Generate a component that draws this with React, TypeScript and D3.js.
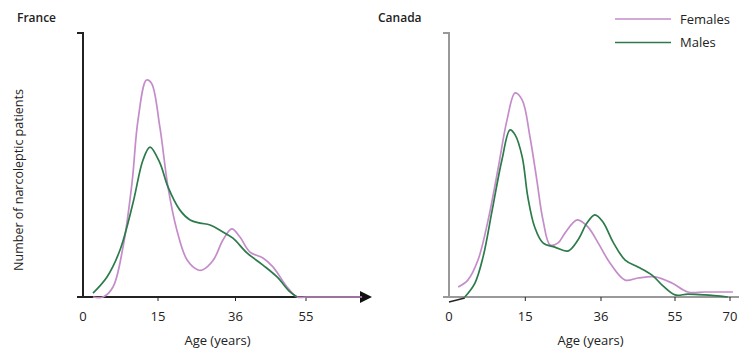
import React, { useEffect, useRef } from "react";
import * as d3 from "d3";

// Age-at-onset curves for narcoleptic patients, France vs Canada
// values are relative (0 = x-axis, 100 = top of y-axis)

const franceTicks = [0, 15, 36, 55];
const canadaTicks = [0, 15, 36, 55, 70];

const franceFemalesAge = [2, 4, 6, 8, 9.8, 11, 12.7, 13.7, 15.5, 17.7, 20.1, 22.9, 25.9, 27, 30, 32.6, 35, 37.2, 39.9, 43.4, 46.1, 49.9, 52.6, 55, 70.3];
const franceFemalesVal = [0, 0, 3.8, 18.9, 43.2, 67, 82.2, 81, 64.4, 41.7, 25.4, 14, 10.2, 10.2, 14, 21.6, 25.8, 22.7, 17, 14.8, 11.4, 3.8, 0, 0, 0];

const franceMalesAge = [2, 4.8, 7.4, 10, 12, 13.4, 15.5, 17.7, 20.9, 23.7, 26.4, 29.1, 32.6, 35.3, 39.1, 43.4, 47.2, 50.7, 52.6];
const franceMalesVal = [1.5, 7.6, 17.8, 35.6, 51.9, 56.8, 50.8, 41.7, 33, 29.2, 28, 27.3, 24.6, 22.3, 16.7, 12.1, 7.6, 1.9, 0];

const canadaFemalesAge = [1.8, 3.7, 5.7, 7.7, 9.6, 11.4, 13, 14.4, 16.3, 18.2, 19.9, 21.9, 24.1, 26, 29.4, 32.4, 35.2, 38.3, 42.2, 45.5, 49.9, 54.2, 58.5, 63.1, 70.8];
const canadaFemalesVal = [3.8, 6.4, 14, 29.2, 48.1, 67, 77.3, 74.6, 60.6, 44.3, 29.2, 19.7, 20.5, 24.2, 29.2, 26.5, 20.5, 12.9, 6.4, 7.2, 7.6, 5.3, 1.9, 1.9, 1.9];

const canadaMalesAge = [3.1, 5.1, 6.7, 8.5, 10.4, 12, 13, 14.4, 15.7, 17.6, 19.9, 23.2, 26.8, 29.6, 32.1, 34.3, 36.5, 39.1, 42.2, 45.5, 49.1, 51.7, 55, 58.5, 63.1, 69.4];
const canadaMalesVal = [0, 5.3, 15.2, 33, 51.9, 63.3, 61.4, 53, 37.9, 26.5, 20.5, 18.9, 17.4, 21.6, 28, 31.1, 28.4, 20.8, 14, 11.4, 8.3, 4.5, 0.8, 1.1, 0.8, 0];

const seriesNames = ["Females", "Males"];
const colors = { Females: "#c48dca", Males: "#2d7a4a" };

const FONT = "'Open Sans', 'Noto Sans', sans-serif";

const zip = (xs: number[], ys: number[]) => xs.map((x, i) => ({ age: x, v: ys[i] }));

const App = () => {
  const svgRef = useRef<SVGSVGElement>(null);

  useEffect(() => {
    const svg = d3.select(svgRef.current);
    svg.selectAll("*").remove();

    const yTop = 33;
    const yBottom = 297;
    const y = d3.scaleLinear().domain([0, 100]).range([yBottom, yTop]);

    const panel = (opts: {
      title: string;
      titleX: number;
      x: d3.ScaleLinear<number, number>;
      ticks: number[];
      axisColor: string;
      axisEnd: number;
      arrow: boolean;
      females: { age: number; v: number }[];
      males: { age: number; v: number }[];
    }) => {
      const { x } = opts;
      const x0 = x(0);
      const g = svg.append("g");

      // title
      g.append("text")
        .attr("x", opts.titleX)
        .attr("y", 22)
        .style("font-family", FONT)
        .style("font-size", "12px")
        .style("font-weight", "600")
        .attr("fill", "#222")
        .text(opts.title);

      // y axis with small end ticks
      g.append("path")
        .attr("d", `M${x0 - 6},${yTop}H${x0}V${yBottom}H${x0 - 6}`)
        .attr("fill", "none")
        .attr("stroke", opts.axisColor)
        .attr("stroke-width", 2);

      // x axis
      g.append("line")
        .attr("x1", x0)
        .attr("x2", opts.axisEnd)
        .attr("y1", yBottom)
        .attr("y2", yBottom)
        .attr("stroke", opts.axisColor)
        .attr("stroke-width", 2);

      if (opts.arrow) {
        g.append("path")
          .attr("d", `M${opts.axisEnd - 2},${yBottom - 6}L${opts.axisEnd + 10},${yBottom}L${opts.axisEnd - 2},${yBottom + 6}Z`)
          .attr("fill", "#111");
      }

      // ticks + labels
      const tk = g.selectAll(".tick").data(opts.ticks).enter().append("g");
      tk.filter((d) => d !== 0)
        .append("line")
        .attr("x1", (d) => x(d))
        .attr("x2", (d) => x(d))
        .attr("y1", yBottom)
        .attr("y2", yBottom + 4)
        .attr("stroke", "#222")
        .attr("stroke-width", 1);
      tk.append("text")
        .attr("x", (d) => x(d))
        .attr("y", 321)
        .attr("text-anchor", "middle")
        .style("font-family", FONT)
        .style("font-size", "13px")
        .attr("fill", "#222")
        .text((d) => d);

      // x label
      g.append("text")
        .attr("x", (x0 + opts.axisEnd) / 2 - 5)
        .attr("y", 345)
        .attr("text-anchor", "middle")
        .style("font-family", FONT)
        .style("font-size", "13px")
        .attr("fill", "#222")
        .text("Age (years)");

      const line = d3
        .line<{ age: number; v: number }>()
        .x((d) => x(d.age))
        .y((d) => y(d.v))
        .curve(d3.curveCatmullRom.alpha(0.5));

      g.append("path")
        .datum(opts.females)
        .attr("d", line)
        .attr("fill", "none")
        .attr("stroke", colors.Females)
        .attr("stroke-width", 1.7);
      g.append("path")
        .datum(opts.males)
        .attr("d", line)
        .attr("fill", "none")
        .attr("stroke", colors.Males)
        .attr("stroke-width", 1.7);
    };

    const xFrance = d3.scaleLinear().domain([0, 15, 36, 55, 73]).range([83, 158, 235.5, 306, 372]);
    const xCanada = d3.scaleLinear().domain([0, 15, 36, 55, 70]).range([449, 525.3, 601, 675, 730]);

    panel({
      title: "France",
      titleX: 17,
      x: xFrance,
      ticks: franceTicks,
      axisColor: "#222",
      axisEnd: 362,
      arrow: true,
      females: zip(franceFemalesAge, franceFemalesVal),
      males: zip(franceMalesAge, franceMalesVal),
    });

    panel({
      title: "Canada",
      titleX: 378,
      x: xCanada,
      ticks: canadaTicks,
      axisColor: "#999",
      axisEnd: 742,
      arrow: false,
      females: zip(canadaFemalesAge, canadaFemalesVal),
      males: zip(canadaMalesAge, canadaMalesVal),
    });

    // small dark stroke at Canada origin
    svg.append("line")
      .attr("x1", xCanada(0))
      .attr("y1", y(0) + 5)
      .attr("x2", xCanada(3.1))
      .attr("y2", y(0) + 1)
      .attr("stroke", "#222")
      .attr("stroke-width", 1.3);

    // y axis title
    svg.append("text")
      .attr("transform", "translate(23,180) rotate(-90)")
      .attr("text-anchor", "middle")
      .style("font-family", FONT)
      .style("font-size", "12.5px")
      .attr("fill", "#222")
      .text("Number of narcoleptic patients");

    // legend
    const leg = svg
      .selectAll(".legend")
      .data(seriesNames)
      .enter()
      .append("g")
      .attr("transform", (d, i) => `translate(615,${19 + i * 23.5})`);
    leg.append("line")
      .attr("x1", 0)
      .attr("x2", 56)
      .attr("stroke", (d) => colors[d as keyof typeof colors])
      .attr("stroke-width", 1.7);
    leg.append("text")
      .attr("x", 65)
      .attr("y", 4.5)
      .style("font-family", FONT)
      .style("font-size", "13px")
      .attr("fill", "#222")
      .text((d) => d);
  }, []);

  return (
    <div style={{ width: 747, height: 357, margin: -8 }}>
      <svg ref={svgRef} width={747} height={357}></svg>
    </div>
  );
};

export default App;
